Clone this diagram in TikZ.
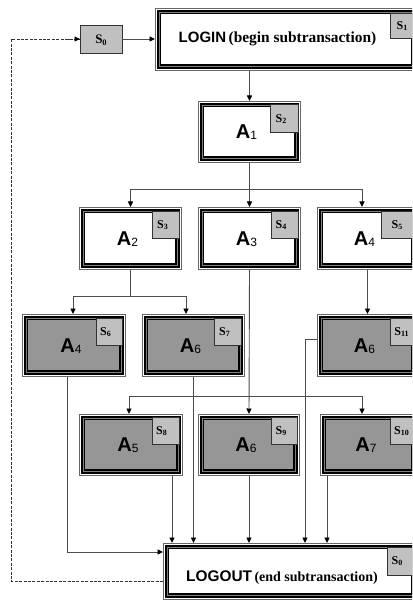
\documentclass[tikz,border=0pt]{standalone}
\usepackage{fontspec}
\setmainfont{Liberation Serif}
\setsansfont{Liberation Sans}
\usetikzlibrary{fit,arrows.meta}
\definecolor{sgray}{RGB}{192,192,192}
\definecolor{bgray}{RGB}{150,150,150}
\newcommand{\Alab}[1]{{\sffamily\bfseries\fontsize{20}{20}\selectfont A}\raisebox{-1pt}{\sffamily\fontsize{12}{12}\selectfont #1}}
\newcommand{\Slab}[1]{{\bfseries\fontsize{12}{12}\selectfont S}\raisebox{-1.8pt}{\bfseries\fontsize{8}{8}\selectfont #1}}
\newcommand{\tribox}[4]{%
  \node[fit={#2 #3}, inner sep=0pt, outer sep=0pt] (#1) {};
  \fill[white] (#1.north west) rectangle (#1.south east);
  \draw[line width=0.7pt, black!60] ([shift={(0.35,0.35)}]#1.north west) rectangle ([shift={(-0.35,-0.35)}]#1.south east);
  \fill[black!50] ([shift={(1.8,1.8)}]#1.north west) rectangle ([shift={(-1.8,-1.8)}]#1.south east);
  \draw[line width=2.2pt, black] ([shift={(2.9,2.9)}]#1.north west) rectangle ([shift={(-2.9,-2.9)}]#1.south east);
  \fill[#4] ([shift={(4.75,4.75)}]#1.north west) rectangle ([shift={(-4.75,-4.75)}]#1.south east);
  \draw[line width=0.9pt, black] ([shift={(5.2,5.2)}]#1.north west) rectangle ([shift={(-5.2,-5.2)}]#1.south east);
  \draw[line width=1.6pt, black] ([shift={(6,-6.4)}]#1.south west) -- ([shift={(-6.4,-6.4)}]#1.south east) -- ([shift={(-6.4,30)}]#1.north east);
}
\newcommand{\sbx}[5]{%
  \node[sboxst, fit={#2 #3}] (#1) {};
  \node[inner sep=0pt] (#1t) at #4 {#5};
}
\tikzset{
  sboxst/.style={inner sep=0pt, outer sep=0pt, draw=black!80, line width=0.6pt, fill=sgray},
  alab/.style={inner sep=0pt},
  conn/.style={draw=black!70, line width=0.9pt},
  >={Triangle[length=5.5pt,width=5pt]},
  arr/.style={conn, -{Triangle[length=5.5pt,width=5pt,fill=black,color=black]}},
  dashc/.style={draw=black!80, line width=0.8pt, dash pattern=on 3pt off 1.4pt}
}
\begin{document}
\begin{tikzpicture}[x=1pt,y=-1pt]
\useasboundingbox (0,0) rectangle (412,601);
\clip (0,0) rectangle (412,601);
\fill[white] (0,0) rectangle (412,601);

% S0 start box
\node[sboxst, fit={(80,25) (122,53)}] (s0) {};
\node[inner sep=0pt] (s0t) at (101,40) {{\bfseries\fontsize{13}{13}\selectfont S}\raisebox{-2pt}{\bfseries\fontsize{8.5}{8.5}\selectfont 0}};

% LOGIN
\tribox{login}{(155,8)}{(418,71)}{white}
\sbx{s1}{(390,13)}{(414,38)}{(402,26)}{\Slab{1}}
\node[inner sep=0pt] (logintext) at (277.5,38.5) {{\sffamily\bfseries\fontsize{15}{15}\selectfont LOGIN} {\bfseries\fontsize{15.4}{15.4}\selectfont (begin subtransaction)}};

% Row 1
\tribox{a1}{(198,101)}{(301,163)}{white}
\sbx{s2}{(270,104)}{(298,132)}{(281,119)}{\Slab{2}}
\node[alab] (a1l) at ([shift={(-3,0.5)}]a1.center) {\Alab{1}};

% Row 2
\tribox{a2}{(79,207)}{(182,270)}{white}
\sbx{s3}{(152,211)}{(179,238)}{(162.5,225)}{\Slab{3}}
\node[alab] (a2l) at ([shift={(-3,0.5)}]a2.center) {\Alab{2}};

\tribox{a3}{(198,207)}{(301,270)}{white}
\sbx{s4}{(271,211)}{(298,238)}{(281,225)}{\Slab{4}}
\node[alab] (a3l) at ([shift={(-3,0.5)}]a3.center) {\Alab{3}};

\tribox{a4t}{(317,207)}{(418,270)}{white}
\sbx{s5}{(381,211)}{(414,238)}{(397,225)}{\Slab{5}}
\node[alab] (a4tl) at ([shift={(-3,0.5)}]a4t.center) {\Alab{4}};

% Row 3
\tribox{a4m}{(22,314)}{(126,377)}{bgray}
\sbx{s6}{(96,318)}{(122,345)}{(105.5,332)}{\Slab{6}}
\node[alab] (a4ml) at ([shift={(-3,0.5)}]a4m.center) {\Alab{4}};

\tribox{a6m}{(142,314)}{(245,377)}{bgray}
\sbx{s7}{(214,318)}{(241,345)}{(224.5,332)}{\Slab{7}}
\node[alab] (a6ml) at ([shift={(-3,0.5)}]a6m.center) {\Alab{6}};

\tribox{a6r}{(317,314)}{(418,377)}{bgray}
\sbx{s11}{(390,318)}{(416,345)}{(401.5,332)}{\Slab{11}}
\node[alab] (a6rl) at ([shift={(-3,0.5)}]a6r.center) {\Alab{6}};

% Row 4
\tribox{a5}{(79,414)}{(183,476)}{bgray}
\sbx{s8}{(152,417)}{(179,444)}{(161.5,431)}{\Slab{8}}
\node[alab] (a5l) at ([shift={(-3,0.5)}]a5.center) {\Alab{5}};

\tribox{a6b}{(198,414)}{(300,476)}{bgray}
\sbx{s9}{(271,417)}{(297,444)}{(281,431)}{\Slab{9}}
\node[alab] (a6bl) at ([shift={(-3,0.5)}]a6b.center) {\Alab{6}};

\tribox{a7}{(320,414)}{(418,476)}{bgray}
\sbx{s10}{(390,417)}{(416,444)}{(401.5,431)}{\Slab{10}}
\node[alab] (a7l) at ([shift={(-3,0.5)}]a7.center) {\Alab{7}};

% LOGOUT
\tribox{logout}{(163,543)}{(418,600)}{white}
\sbx{s0b}{(387,547)}{(416,575)}{(397,561)}{\Slab{0}}
\node[inner sep=0pt] (logouttext) at (282,577.5) {{\sffamily\bfseries\fontsize{15.4}{15.4}\selectfont LOGOUT} {\bfseries\fontsize{14}{14}\selectfont (end subtransaction)}};

% connectors
\draw[dashc] ([yshift=-9.5pt]logout.west) -- ++(-152,0) coordinate (dl) |- (s0.west);
\draw[dashc, -{Triangle[length=5.5pt,width=5pt,fill=black,color=black]}] ([xshift=-14pt]s0.west) -- (s0.west);
\draw[arr] (s0.east) -- (login.west |- s0.east);
\draw[arr] (a1.north |- login.south) -- (a1.north);

\draw[arr] (a1.south) -- (a3.north);
\path (a1.south) ++(0,26) coordinate (b1);
\draw[arr] (b1) -| (a2.north);
\draw[arr] (b1) -| ([xshift=-5.5pt]a4t.north);

\path (a2.south) ++(0,26) coordinate (b2);
\draw[conn] (a2.south) -- (b2);
\draw[arr] (b2) -| ([xshift=-1pt]a4m.north);
\draw[arr] (b2) -| ([xshift=-7.5pt]a6m.north);

\draw[arr] (a4t.south) -- (a6r.north);

\draw[arr] (a3.south) -- (a6b.north);
\path (a3.south) ++(0,126) coordinate (b3);
\draw[arr] (b3) -| ([xshift=-2pt]a5.north);
\draw[arr] (b3) -| ([xshift=-7pt]a7.north);

\draw[conn] ([yshift=6.5pt]a6r.west) -- ++(-12,0) coordinate (c1);
\draw[arr] (c1) -- (c1 |- logout.north);

\draw[arr] ([xshift=-7pt]a4m.south) |- ([yshift=19.5pt]logout.west);
\draw[arr] (a6m.south) -- (a6m.south |- logout.north);
\draw[arr] ([xshift=41pt]a5.south) -- ([xshift=41pt]a5.south |- logout.north);
\draw[arr] (a6b.south) -- (a6b.south |- logout.north);
\draw[arr] ([xshift=-42pt]a7.south) -- ([xshift=-42pt]a7.south |- logout.north);
\end{tikzpicture}
\end{document}
